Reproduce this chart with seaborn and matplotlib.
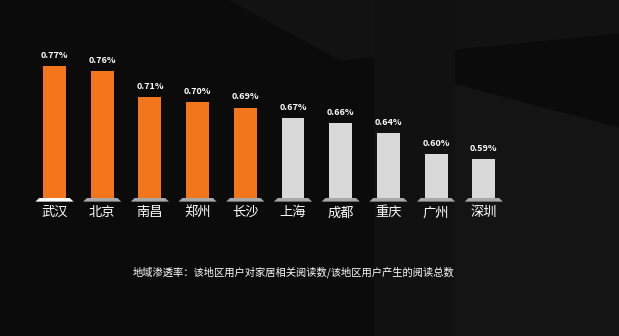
import matplotlib
matplotlib.use("Agg")
import matplotlib.pyplot as plt
from matplotlib.patches import Polygon
import seaborn as sns

cities = ["武汉", "北京", "南昌", "郑州", "长沙", "上海", "成都", "重庆", "广州", "深圳"]
values = [0.77, 0.76, 0.71, 0.70, 0.69, 0.67, 0.66, 0.64, 0.60, 0.59]
value_labels = ["0.77%", "0.76%", "0.71%", "0.70%", "0.69%", "0.67%", "0.66%", "0.64%", "0.60%", "0.59%"]
highlight_count = 5
note = "地域渗透率：该地区用户对家居相关阅读数/该地区用户产生的阅读总数"

ORANGE = "#F4761C"
GREY = "#D9D9D9"
BG = "#0b0b0b"

sns.set_style("dark")
plt.rcParams["font.family"] = ["Noto Sans CJK SC", "DejaVu Sans"]

fig = plt.figure(figsize=(6.19, 3.36), dpi=100, facecolor=BG)

# faint background geometry on its own axes behind everything
bg = fig.add_axes([0, 0, 1, 1], zorder=-1)
bg.set_xlim(0, 1)
bg.set_ylim(0, 1)
bg.axis("off")
deco = [
    ([(0.37, 1.0), (1.0, 1.0), (1.0, 0.90), (0.55, 0.82)], "#121212"),
    ([(0.605, 0.0), (0.735, 0.0), (0.735, 1.0), (0.605, 1.0)], "#111111"),
    ([(0.735, 0.0), (1.0, 0.0), (1.0, 0.62), (0.735, 0.75)], "#141414"),
]
for pts, c in deco:
    bg.add_patch(Polygon(pts, closed=True, facecolor=c, edgecolor="none"))

ax = fig.add_axes([0.0495, 0.4107, 0.7706, 0.53], zorder=1)
ax.set_facecolor("none")

palette = [ORANGE if i < highlight_count else GREY for i in range(len(cities))]
sns.barplot(x=cities, y=values, hue=cities, palette=palette, legend=False,
            width=0.48, saturation=1, edgecolor="none", linewidth=0, ax=ax, zorder=3)

base = 0.515
ax.set_ylim(base, 0.8595)
ax.set_xlim(-0.5, len(cities) - 0.5)

for i, (p, lab) in enumerate(zip(ax.patches, value_labels)):
    cx = p.get_x() + p.get_width() / 2
    ax.text(cx, p.get_height() + 0.012, lab, ha="center", va="bottom",
            color="white", fontsize=6.5, fontweight="bold", zorder=4)
    ped_col = "white" if i == 0 else "#A8A8A8"
    ax.add_patch(Polygon([(cx - 0.32, base), (cx + 0.32, base),
                          (cx + 0.40, base - 0.007), (cx - 0.40, base - 0.007)],
                         closed=True, facecolor=ped_col, edgecolor="none",
                         clip_on=False, zorder=3))

ax.set_xticks(range(len(cities)))
ax.set_xticklabels(cities, color="white", fontsize=9.5)
ax.tick_params(axis="x", length=0, pad=6)
ax.set_yticks([])
ax.set_xlabel("")
ax.set_ylabel("")
ax.grid(False)
for s in ax.spines.values():
    s.set_visible(False)

fig.text(0.215, 0.19, note, color="white", fontsize=7.4, ha="left", va="center")

fig.savefig("out.png", dpi=100, facecolor=BG)
